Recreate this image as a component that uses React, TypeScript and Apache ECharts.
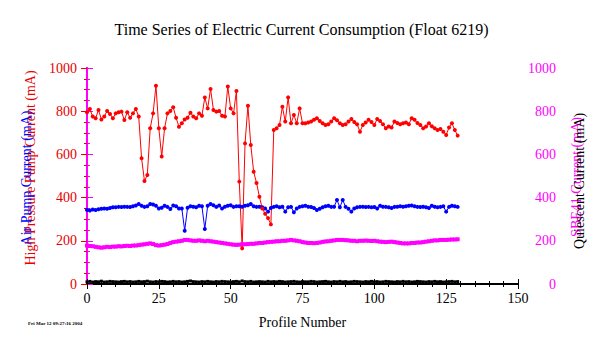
import React, { useEffect, useRef } from "react";
import * as echarts from "echarts";

const titleText = "Time Series of Electric Current Consumption (Float 6219)";
const xTitle = "Profile Number";
const stampText = "Fri Mar 12 09:27:16 2004";

const hpPump: number[] = [
  795, 810, 775, 767, 806, 762, 775, 801, 787, 767,
  790, 795, 798, 759, 795, 770, 790, 810, 775, 582,
  477, 505, 721, 790, 918, 721, 590, 721, 790, 801,
  818, 770, 728, 744, 762, 770, 793, 775, 767, 790,
  779, 863, 813, 903, 806, 798, 801, 779, 775, 914,
  813, 790, 894, 474, 165, 651, 825, 644, 520, 468,
  404, 350, 325, 305, 276, 713, 721, 736, 821, 752,
  864, 744, 782, 744, 813, 744, 744, 748, 752, 760,
  767, 755, 744, 736, 740, 752, 767, 758, 744, 736,
  740, 752, 764, 750, 740, 705, 736, 748, 760, 750,
  736, 764, 755, 740, 721, 729, 725, 752, 745, 740,
  744, 748, 740, 767, 760, 745, 736, 721, 729, 744,
  730, 721, 713, 718, 705, 690, 725, 744, 713, 687,
];

const airPump: number[] = [
  343, 340, 345, 343, 346, 348, 350, 348, 352, 355,
  355, 357, 356, 358, 357, 356, 360, 363, 370, 362,
  357, 360, 370, 368, 362, 350, 353, 362, 357, 347,
  363, 360, 350, 350, 247, 353, 360, 358, 355, 362,
  360, 255, 362, 370, 365, 357, 363, 350, 358, 362,
  365, 357, 360, 360, 358, 362, 365, 370, 360, 357,
  358, 355, 350, 335, 352, 357, 360, 355, 358, 335,
  355, 357, 332, 350, 357, 360, 362, 358, 356, 352,
  343, 348, 355, 360, 362, 357, 358, 389, 355, 389,
  357, 348, 335, 350, 355, 357, 358, 356, 357, 355,
  356, 350, 362, 358, 357, 355, 352, 357, 358, 360,
  358, 360, 362, 363, 360, 357, 356, 358, 355, 352,
  362, 358, 355, 357, 360, 335, 357, 362, 360, 357,
];

const sbe41: number[] = [
  178, 176, 175, 172, 170, 168, 170, 172, 171, 173,
  173, 175, 174, 176, 177, 176, 178, 178, 180, 182,
  184, 186, 188, 185, 180, 178, 180, 182, 185, 190,
  194, 196, 198, 200, 204, 204, 202, 200, 200, 202,
  200, 198, 200, 198, 196, 194, 192, 190, 188, 186,
  184, 182, 181, 182, 184, 184, 185, 186, 186, 188,
  190, 190, 192, 194, 195, 196, 198, 198, 200, 200,
  202, 204, 202, 200, 198, 194, 192, 190, 190, 189,
  190, 192, 195, 197, 198, 200, 202, 204, 204, 204,
  203, 202, 200, 200, 198, 200, 200, 201, 200, 199,
  200, 198, 196, 195, 194, 195, 196, 194, 192, 190,
  188, 188, 188, 190, 190, 192, 192, 194, 196, 198,
  200, 202, 202, 204, 204, 204, 205, 206, 206, 207,
];

const quiescent: number[] = [
  10, 12, 9, 11, 10, 13, 9, 10, 12, 11,
  10, 9, 11, 12, 10, 11, 9, 10, 12, 10,
  11, 13, 10, 9, 11, 10, 12, 11, 9, 10,
  12, 10, 11, 9, 10, 12, 14, 11, 10, 9,
  11, 10, 12, 10, 9, 11, 10, 12, 11, 10,
  9, 11, 12, 10, 14, 11, 10, 12, 9, 10,
  11, 10, 9, 12, 10, 11, 10, 12, 11, 9,
  10, 11, 12, 10, 9, 11, 10, 10, 12, 11,
  9, 10, 11, 12, 10, 9, 11, 10, 12, 10,
  11, 9, 10, 12, 11, 10, 9, 11, 10, 12,
  10, 11, 9, 10, 12, 11, 10, 9, 11, 10,
  12, 10, 11, 9, 10, 12, 11, 10, 9, 11,
  10, 12, 10, 11, 9, 10, 11, 12, 10, 11,
];

const leftTicks = [0, 200, 400, 600, 800, 1000];
const rightTicks = [0, 200, 400, 600, 800, 1000];
const xTicks = [0, 25, 50, 75, 100, 125, 150];

const profiles: number[] = hpPump.map((_, i) => i);
const pairs = (vals: number[]) => vals.map((v, i) => [profiles[i], v]);

const FONT = "Liberation Serif, Times New Roman, serif";
const RED = "#ff0000";
const RED_AX = "#e60000";
const BLUE = "#0000ff";
const MAG = "#ff00ff";

const txt = (
  text: string,
  x: number,
  y: number,
  fill: string,
  align: string,
  rotation = 0,
  size = 14
) => ({
  type: "text",
  x,
  y,
  rotation,
  silent: true,
  style: { text, fill, font: `${size}px ${FONT}`, align, verticalAlign: "middle" },
});

export default function App() {
  const ref = useRef<HTMLDivElement>(null);
  useEffect(() => {
    if (!ref.current) return;
    const chart = echarts.init(ref.current, undefined, { renderer: "svg" });
    const yMin = leftTicks[0];
    const yMax = leftTicks[leftTicks.length - 1];
    const yInt = leftTicks[1] - leftTicks[0];
    const xMin = xTicks[0];
    const xMax = xTicks[xTicks.length - 1];
    const xInt = xTicks[1] - xTicks[0];
    const xCommon = {
      type: "value",
      min: xMin,
      max: xMax,
      interval: xInt,
      axisLine: { lineStyle: { color: "#000", width: 2 } },
      axisTick: { show: true, length: 5, lineStyle: { color: "#000" } },
      minorTick: { show: true, splitNumber: 5, length: 3, lineStyle: { color: "#000" } },
      axisLabel: { show: false },
      splitLine: { show: false },
    };
    const yCommon = (color: string, position: string) => ({
      type: "value",
      position,
      min: yMin,
      max: yMax,
      interval: yInt,
      axisLine: { show: true, lineStyle: { color, width: 2 } },
      axisTick: { show: true, length: 6, lineStyle: { color } },
      minorTick: { show: true, splitNumber: 4, length: 3, lineStyle: { color } },
      axisLabel: { show: false },
      splitLine: { show: false },
    });
    chart.setOption({
      animation: false,
      backgroundColor: "#ffffff",
      textStyle: { fontFamily: FONT },
      title: {
        text: titleText,
        left: "center",
        top: 16,
        textStyle: { fontFamily: FONT, fontSize: 16, fontWeight: "normal", color: "#000" },
      },
      grid: { left: 87, right: 85, top: 68, bottom: 62 },
      xAxis: [
        { ...xCommon, position: "bottom" },
        { ...xCommon, position: "top" },
      ],
      yAxis: [yCommon(RED_AX, "left"), yCommon(MAG, "right")],
      series: [
        {
          name: "Quiescent Current (mA)",
          type: "line",
          yAxisIndex: 1,
          data: pairs(quiescent),
          symbol: "rect",
          symbolSize: 3,
          itemStyle: { color: "#000" },
          lineStyle: { color: "#000", width: 1 },
        },
        {
          name: "SBE41 Current (mA)",
          type: "line",
          yAxisIndex: 1,
          data: pairs(sbe41),
          symbol: "rect",
          symbolSize: 4,
          itemStyle: { color: MAG },
          lineStyle: { color: MAG, width: 1 },
        },
        {
          name: "Air Pump Current (mA)",
          type: "line",
          yAxisIndex: 0,
          data: pairs(airPump),
          symbol: "circle",
          symbolSize: 4,
          itemStyle: { color: BLUE },
          lineStyle: { color: BLUE, width: 1 },
        },
        {
          name: "High Pressure Pump Current (mA)",
          type: "line",
          yAxisIndex: 0,
          data: pairs(hpPump),
          symbol: "circle",
          symbolSize: 4,
          itemStyle: { color: RED },
          lineStyle: { color: RED, width: 1 },
        },
      ],
    });

    // Tick labels placed through the chart's own axis scales
    const left = chart.convertToPixel({ xAxisIndex: 0 }, xMin) as number;
    const right = chart.convertToPixel({ xAxisIndex: 0 }, xMax) as number;
    const bottom = chart.convertToPixel({ yAxisIndex: 0 }, yMin) as number;
    const top = chart.convertToPixel({ yAxisIndex: 0 }, yMax) as number;
    const midX = (left + right) / 2;
    const midY = (top + bottom) / 2;
    const graphics: any[] = [];
    xTicks.forEach((t) => {
      const px = chart.convertToPixel({ xAxisIndex: 0 }, t) as number;
      graphics.push(txt(String(t), px, bottom + 14, "#000", "center"));
    });
    leftTicks.forEach((t) => {
      const py = chart.convertToPixel({ yAxisIndex: 0 }, t) as number;
      graphics.push(txt(String(t), left - 10, py, RED_AX, "right"));
    });
    rightTicks.forEach((t) => {
      const py = chart.convertToPixel({ yAxisIndex: 1 }, t) as number;
      graphics.push(txt(String(t), right + 38, py, MAG, "right"));
    });
    graphics.push(txt(xTitle, midX, bottom + 38, "#000", "center"));
    graphics.push(
      txt("High Pressure Pump Current (mA)", left - 57, midY - 8, RED_AX, "center", Math.PI / 2)
    );
    graphics.push(txt("Air Pump Current (mA)", left - 61, midY + 2, BLUE, "center", Math.PI / 2));
    graphics.push(txt("SBE41 Current (mA)", right + 58, midY + 1, MAG, "center", Math.PI / 2));
    graphics.push(
      txt("Quiescent Current (mA)", right + 61, midY + 5, "#000", "center", Math.PI / 2)
    );
    graphics.push({
      type: "text",
      x: 28,
      y: 323,
      silent: true,
      style: {
        text: stampText,
        fill: "#000",
        font: `bold 5px ${FONT}`,
        align: "left",
        verticalAlign: "middle",
      },
    });
    chart.setOption({ graphic: graphics });

    return () => chart.dispose();
  }, []);
  return (
    <div
      ref={ref}
      style={{ position: "absolute", left: 0, top: 0, width: 603, height: 346, background: "#fff" }}
    />
  );
}
